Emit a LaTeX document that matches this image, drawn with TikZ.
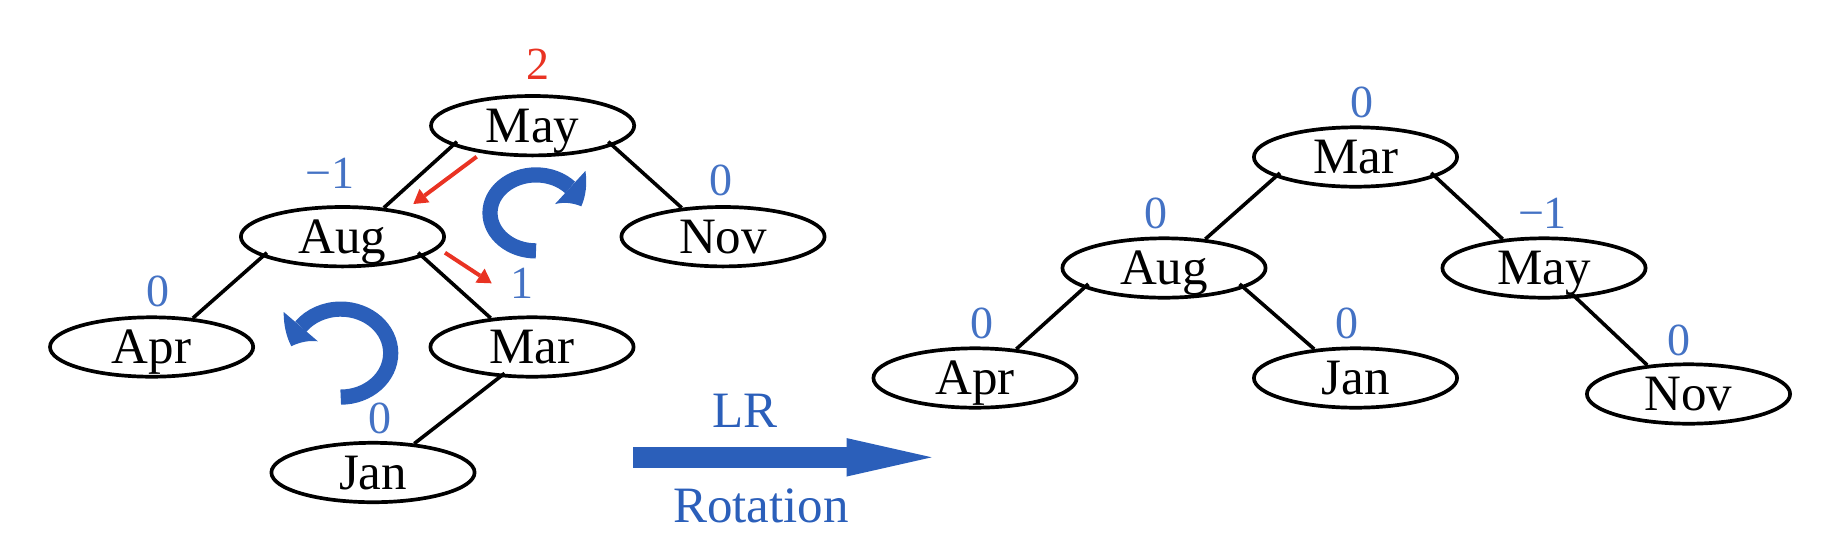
\documentclass[tikz,border=0pt]{standalone}
\usepackage{fontspec}
\setmainfont{Liberation Serif}
\usetikzlibrary{arrows.meta,bending,shapes.geometric}
\definecolor{numblue}{HTML}{4472C4}
\definecolor{arrblue}{HTML}{2B5FBA}
\definecolor{annred}{HTML}{E93323}
\begin{document}
\begin{tikzpicture}[x=0.5pt,y=-0.5pt,
  tnode/.style={ellipse, draw, line width=1.85pt, minimum width=101.6pt, minimum height=29.7pt,
    inner sep=0pt, font=\fontsize{25.5}{30}\selectfont, text height=16.9pt, text depth=0pt},
  bal/.style={text=numblue, font=\fontsize{23}{26}\selectfont, inner sep=0pt},
  redbal/.style={text=annred, font=\fontsize{23}{26}\selectfont, inner sep=0pt},
  lbl/.style={text=arrblue, font=\fontsize{25.5}{30}\selectfont, inner sep=0pt},
  tedge/.style={line width=1.8pt, shorten <=-3pt},
  redarr/.style={annred, line width=2pt, -{Triangle[length=7pt,width=8.4pt,line width=0pt]}},
  rotarr/.style={arrblue, line width=7.6pt, -{Triangle[length=11pt,width=22.5pt,line width=0pt,bend]}},
  bigarr/.style={arrblue, line width=10.3pt, -{Triangle[length=42.5pt,width=19.2pt,line width=0pt]}}
]
\useasboundingbox (0,0) rectangle (1824,558);

% ---- left tree ----
\node[tnode] (lmay) at (532.6,125.7) {May};
\node[tnode] (laug) at (342.5,236.7) {Aug};
\node[tnode] (lnov) at (723,236.7) {Nov};
\node[tnode] (lapr) at (151.6,347) {Apr};
\node[tnode] (lmar) at (532,347) {Mar};
\node[tnode] (ljan) at (373,472.5) {Jan};

\draw[tedge] (lmay.194) -- (laug.35);
\draw[tedge] (lmay.346) -- (lnov.145);
\draw[tedge] (laug.194) -- (lapr.35);
\draw[tedge] (laug.346) -- (lmar.145);
\draw[tedge] (lmar.223) -- (ljan.35);

\node[redbal] (b1) at (538,64) {2};
\node[bal] (b2) at (330,173) {−1};
\node[bal] (b3) at (721,180) {0};
\node[bal] (b4) at (158,291.7) {0};
\node[bal] (b5) at (522,283) {1};
\node[bal] (b6) at (380,418) {0};

\coordinate (r1s) at (476.7,156.7);
\coordinate (r1e) at (413.3,204);
\coordinate (r2s) at (445,252.7);
\coordinate (r2e) at (491.7,283.3);
\draw[redarr] (r1s) -- (r1e);
\draw[redarr] (r2s) -- (r2e);

% curved rotation arrows
\draw[rotarr] (536,250.9) arc[start angle=90, end angle=350, x radius=46, y radius=38];
\draw[rotarr] (340.7,397.1) arc[start angle=90, end angle=-171, x radius=50, y radius=44];

% big arrow
\coordinate (as) at (633,457.3);
\coordinate (ae) at (931.7,457.3);
\draw[bigarr] (as) -- (ae);
\node[lbl] (lr) at (745,411) {LR};
\node[lbl] (rt) at (761,506) {Rotation};

% ---- right tree ----
\node[tnode] (rmar) at (1355.5,157) {Mar};
\node[tnode] (raug) at (1164,268) {Aug};
\node[tnode] (rmay) at (1544,268) {May};
\node[tnode] (rapr) at (975,378) {Apr};
\node[tnode] (rjan) at (1355.5,378) {Jan};
\node[tnode] (rnov) at (1688.5,394) {Nov};

\draw[tedge] (rmar.194) -- (raug.35);
\draw[tedge] (rmar.346) -- (rmay.145);
\draw[tedge] (raug.194) -- (rapr.35);
\draw[tedge] (raug.346) -- (rjan.145);
\draw[tedge] (rmay.317) -- (rnov.145);

\node[bal] (c1) at (1362,102) {0};
\node[bal] (c2) at (1156,213) {0};
\node[bal] (c3) at (1542.5,213) {−1};
\node[bal] (c4) at (982,323) {0};
\node[bal] (c5) at (1347,323) {0};
\node[bal] (c6) at (1679,340) {0};
\end{tikzpicture}
\end{document}
